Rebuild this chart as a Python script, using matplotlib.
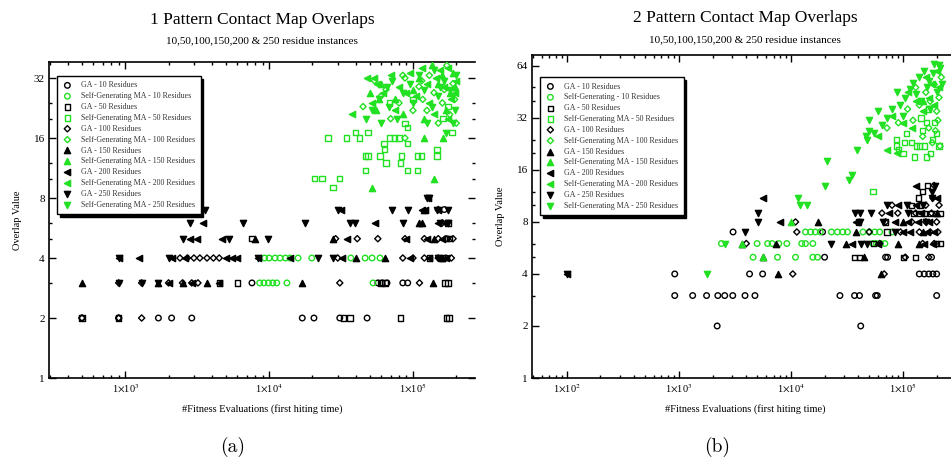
import matplotlib
matplotlib.use("Agg")
import numpy as np
import matplotlib.pyplot as plt
from matplotlib.ticker import FixedLocator, FuncFormatter, NullFormatter, LogLocator

plt.rcParams["font.family"] = ["Liberation Serif", "DejaVu Serif"]
plt.rcParams["mathtext.fontset"] = "stix"

GREEN = "#22e022"

labels_a = [
    "GA - 10 Residues", "Self-Generating MA - 10 Residues",
    "GA - 50 Residues", "Self-Generating MA - 50 Residues",
    "GA - 100 Residues", "Self-Generating MA - 100 Residues",
    "GA - 150 Residues", "Self-Generating MA - 150 Residues",
    "GA - 200 Residues", "Self-Generating MA - 200 Residues",
    "GA - 250 Residues", "Self-Generating MA - 250 Residues",
]
labels_b = list(labels_a)
labels_b[1] = "Self-Generating - 10 Residues"

# ---- panel (a): 1 pattern, (fitness evaluations, overlap value)
a_ga10 = [(500, 2), (900, 2), (1700, 2), (2100, 2), (2900, 2), (17000, 2), (20500, 2),
          (31000, 2), (48000, 2), (7600, 3), (57000, 3), (61000, 3), (66000, 3),
          (85000, 3), (92000, 3), (170000, 4), (170000, 5), (165000, 7)]
a_sg10 = [(8600, 3), (9200, 3), (9900, 3), (10600, 3), (11300, 3), (13300, 3), (52800, 3),
          (9300, 4), (10000, 4), (11000, 4), (11900, 4), (13000, 4), (14000, 4), (15900, 4),
          (19800, 4), (37000, 4), (46500, 4), (52000, 4), (59000, 4)]
a_ga50 = [(500, 2), (900, 2), (33000, 2), (36500, 2), (82000, 2), (170000, 2), (178000, 2),
          (4500, 3), (6000, 3), (60000, 3), (64000, 3), (167000, 3), (175000, 3),
          (130000, 4), (160000, 4), (7600, 5), (170000, 5), (180000, 5), (175000, 6)]
a_sg50 = [(20800, 10), (23300, 10), (31000, 10), (27800, 9), (25700, 16), (34600, 16),
          (42700, 16), (40000, 17), (48700, 17), (46500, 13), (48700, 13), (59000, 13),
          (47000, 11), (65000, 12), (63500, 14), (69000, 16), (74000, 16), (80000, 16),
          (82000, 12), (92000, 11), (107000, 11), (107000, 13), (115000, 13), (147000, 13),
          (92000, 18), (187000, 17), (69000, 24), (88000, 19), (100000, 25), (162000, 20),
          (175000, 23), (187000, 27), (63000, 15), (92000, 15), (83000, 13), (147000, 14)]
a_ga100 = [(500, 2), (900, 2), (1300, 2), (900, 3), (1300, 3), (2000, 3), (2500, 3),
           (2900, 3), (3200, 3), (31000, 3), (111000, 3), (2400, 4), (2700, 4), (3000, 4),
           (3300, 4), (3700, 4), (4100, 4), (4500, 4), (30000, 4), (85000, 4), (100000, 4),
           (120000, 4), (150000, 4), (185000, 4), (29000, 5), (41000, 5), (57000, 5),
           (88000, 5), (120000, 5), (150000, 5), (190000, 5), (160000, 6), (150000, 7)]
a_sg100 = [(54000, 31), (88000, 32), (172000, 37), (115000, 31), (80000, 24), (117000, 25),
           (88000, 16), (65000, 28), (100000, 22), (140000, 27), (160000, 24), (190000, 30),
           (45000, 23), (70000, 20), (130000, 33), (180000, 21), (150000, 19), (60000, 26),
           (110000, 29), (195000, 25), (85000, 33), (125000, 22), (165000, 28), (200000, 19)]
a_ga150 = [(500, 3), (1700, 3), (2500, 3), (3700, 3), (17000, 3), (137000, 3),
           (40000, 4), (64000, 4), (160000, 4), (8000, 5), (28000, 5), (140000, 5),
           (111000, 6), (115000, 6), (120000, 7)]
a_sg150 = [(52000, 9), (140000, 10), (119000, 16), (162000, 16), (60000, 30), (75000, 25),
           (100000, 28), (135000, 37), (150000, 30), (170000, 22), (190000, 34), (55000, 22),
           (120000, 20), (85000, 21), (180000, 27), (160000, 33), (50000, 27), (110000, 32),
           (58000, 25), (195000, 29)]
a_ga200 = [(2000, 3), (2900, 3), (4500, 3), (900, 4), (1250, 4), (2100, 4), (2600, 4),
           (5000, 4), (5500, 4), (6000, 4), (8400, 4), (14000, 4), (32000, 4), (95000, 4),
           (130000, 4), (170000, 4), (2800, 5), (3150, 5), (4700, 5), (34800, 5), (90000, 5),
           (125000, 5), (160000, 5), (3480, 6), (54500, 6), (150000, 6), (168000, 6),
           (31500, 7), (115000, 7), (122000, 7), (150000, 7), (128000, 8)]
a_sg200 = [(37500, 21), (48000, 32), (56000, 30), (70000, 33), (95000, 34), (62000, 27),
           (80000, 29), (105000, 26), (125000, 30), (145000, 32), (165000, 29), (185000, 25),
           (200000, 31), (52000, 24), (75000, 22), (130000, 24), (155000, 35), (175000, 20),
           (90000, 27), (115000, 36), (54000, 32), (175000, 36), (140000, 21), (195000, 27)]
a_ga250 = [(900, 3), (1300, 3), (1700, 3), (900, 4), (2000, 4), (8400, 4), (21800, 4),
           (28000, 4), (150000, 4), (2500, 5), (5300, 5), (9800, 5), (2830, 6), (6600, 6),
           (17800, 6), (36500, 6), (39600, 6), (85000, 6), (155000, 6), (175000, 6),
           (3590, 7), (30000, 7), (71000, 7), (92000, 7), (146000, 7), (175000, 7),
           (126000, 8), (130000, 8)]
a_sg250 = [(47000, 20), (52000, 22), (58000, 25), (66000, 29), (72000, 31), (85000, 27),
           (95000, 30), (110000, 33), (120000, 28), (135000, 23), (150000, 26), (165000, 31),
           (180000, 28), (195000, 22), (140000, 35), (60000, 19), (78000, 20), (100000, 24),
           (125000, 19), (170000, 17), (190000, 19), (200000, 33), (155000, 29), (68000, 23)]

# ---- panel (b): 2 patterns
b_ga10 = [(2200, 2), (42000, 2), (920, 3), (1330, 3), (1770, 3), (2230, 3), (2570, 3),
          (3030, 3), (3900, 3), (4780, 3), (27400, 3), (37000, 3), (41000, 3), (57000, 3),
          (59000, 3), (200000, 3), (920, 4), (4280, 4), (5600, 4), (140000, 4), (155000, 4),
          (170000, 4), (185000, 4), (200000, 4), (20000, 5), (70000, 5), (73000, 5),
          (180000, 5), (3050, 7), (19200, 7)]
b_sg10 = [(4600, 5), (7600, 5), (11000, 5), (15700, 5), (17300, 5), (2400, 6), (5000, 6),
          (6200, 6), (6800, 6), (7800, 6), (9200, 6), (12500, 6), (13500, 6), (15700, 6),
          (54000, 6), (58000, 6), (63000, 6), (69000, 6), (13500, 7), (15000, 7), (16500, 7),
          (18300, 7), (23000, 7), (26000, 7), (29000, 7), (32000, 7), (44000, 7), (50000, 7),
          (56000, 7), (62000, 7), (80000, 7)]
b_ga50 = [(37000, 5), (41000, 5), (102000, 5), (130000, 5), (55000, 6), (200000, 6),
          (215000, 6), (72000, 7), (40000, 8), (70000, 8), (125000, 9), (140000, 9),
          (155000, 9), (175000, 9), (195000, 9), (215000, 9), (120000, 10), (140000, 10),
          (137000, 11), (150000, 12), (165000, 13)]
b_sg50 = [(54000, 12), (88000, 24), (91000, 21), (108000, 26), (127000, 19), (163000, 19),
          (133000, 22), (140000, 22), (156000, 22), (150000, 27), (200000, 26), (190000, 30),
          (163000, 30), (175000, 20), (120000, 23), (185000, 24), (145000, 32), (210000, 22),
          (100000, 20), (170000, 36), (88000, 22), (103000, 23)]
b_ga100 = [(10400, 4), (68000, 4), (105000, 5), (170000, 5), (4000, 6), (62000, 6),
           (150000, 6), (190000, 6), (11300, 7), (50000, 7), (95000, 7), (140000, 7),
           (175000, 7), (205000, 7), (11000, 8), (70000, 8), (120000, 8), (160000, 8),
           (200000, 8), (65000, 9), (90000, 9), (130000, 9), (180000, 9), (80000, 10),
           (160000, 10), (210000, 10), (185000, 11), (190000, 13)]
b_sg100 = [(214000, 22), (183000, 23), (150000, 25), (123000, 31), (91000, 30), (72000, 28),
           (200000, 35), (175000, 40), (160000, 45), (140000, 38), (190000, 50), (210000, 42),
           (110000, 36), (130000, 48), (220000, 55), (170000, 28), (195000, 27), (205000, 31)]
b_ga150 = [(7600, 4), (64000, 4), (5600, 5), (45000, 5), (3700, 6), (7300, 6), (31000, 6),
           (91000, 6), (140000, 6), (38000, 7), (150000, 7), (17300, 8), (100000, 8),
           (200000, 9)]
b_sg150 = [(5600, 5), (3700, 6), (10000, 8), (150000, 40)]
b_ga200 = [(100, 4), (35000, 6), (60000, 6), (155000, 6), (185000, 6), (100000, 7),
           (115000, 7), (165000, 7), (190000, 7), (8000, 8), (38000, 8), (85000, 8),
           (110000, 8), (135000, 8), (170000, 8), (75000, 9), (145000, 9), (90000, 10),
           (130000, 10), (5600, 11), (200000, 11), (132000, 13)]
b_sg200 = [(72000, 21), (88000, 20), (60000, 25), (100000, 30), (120000, 28), (150000, 35),
           (170000, 42), (190000, 38), (210000, 48), (130000, 40), (160000, 55), (200000, 60),
           (110000, 45), (80000, 33), (180000, 50)]
b_ga250 = [(100, 4), (23000, 6), (42000, 6), (48000, 6), (3900, 7), (85000, 7), (5100, 8),
           (41000, 8), (66000, 8), (160000, 8), (5100, 9), (37000, 9), (41000, 9),
           (52000, 9), (110000, 9), (72000, 10), (108000, 10), (150000, 10), (180000, 11),
           (183000, 12), (195000, 13)]
b_sg250 = [(1770, 4), (2600, 6), (11500, 11), (14000, 10), (12000, 10), (20900, 18),
           (20000, 13), (35000, 15), (33000, 14), (39000, 21), (50000, 31), (47000, 25),
           (48000, 24), (50000, 27), (72000, 32), (88000, 45), (123000, 51), (210000, 65),
           (60000, 35), (95000, 38), (105000, 42), (115000, 47), (140000, 55), (155000, 60),
           (170000, 52), (185000, 58), (200000, 45), (215000, 62), (225000, 50),
           (130000, 44), (165000, 48), (190000, 66), (145000, 40), (175000, 36),
           (100000, 33), (80000, 36), (65000, 29), (55000, 26)]

series_a = [a_ga10, a_sg10, a_ga50, a_sg50, a_ga100, a_sg100,
            a_ga150, a_sg150, a_ga200, a_sg200, a_ga250, a_sg250]
series_b = [b_ga10, b_sg10, b_ga50, b_sg50, b_ga100, b_sg100,
            b_ga150, b_sg150, b_ga200, b_sg200, b_ga250, b_sg250]

# marker, filled, size
styles = [("o", False, 16), ("s", False, 14), ("D", False, 10),
          ("^", True, 20), ("<", True, 20), ("v", True, 20)]


def xfmt(v, pos):
    return r"1$\times$10$^{%d}$" % int(round(np.log10(v)))


def draw_panel(ax, series, labels, xlim, ylim, ymajor, yminor, legend_anchor):
    for i, pts in enumerate(series):
        marker, filled, size = styles[i // 2]
        color = "black" if i % 2 == 0 else GREEN
        xs, ys = zip(*pts)
        ax.scatter(xs, ys, marker=marker, s=size,
                   facecolors=color if filled else "none",
                   edgecolors=color, linewidths=1.0, label=labels[i], zorder=3)
    ax.set_xscale("log")
    ax.set_yscale("log", base=2)
    ax.set_xlim(*xlim)
    ax.set_ylim(*ylim)
    ax.xaxis.set_major_locator(LogLocator(base=10))
    ax.xaxis.set_major_formatter(FuncFormatter(xfmt))
    ax.xaxis.set_minor_locator(LogLocator(base=10, subs=np.arange(2, 10)))
    ax.xaxis.set_minor_formatter(NullFormatter())
    ax.yaxis.set_major_locator(FixedLocator(ymajor))
    ax.yaxis.set_major_formatter(FuncFormatter(lambda v, p: "%d" % v))
    ax.yaxis.set_minor_locator(FixedLocator(yminor))
    ax.yaxis.set_minor_formatter(NullFormatter())
    ax.tick_params(which="both", direction="in", top=True, right=True, width=1.0)
    ax.tick_params(which="major", length=5, labelsize=8, pad=3)
    ax.tick_params(axis="x", which="major", labelsize=7.5)
    ax.tick_params(which="minor", length=2.5)
    for sp in ax.spines.values():
        sp.set_linewidth(1.2)
    ax.set_xlabel("#Fitness Evaluations (first hiting time)", fontsize=7.5, labelpad=6)
    ax.set_ylabel("Overlap Value", fontsize=7.5, labelpad=8)
    leg = ax.legend(loc="upper left", bbox_to_anchor=legend_anchor, borderaxespad=0,
                    fontsize=5.7, labelspacing=0.36, handletextpad=1.1, borderpad=0.7,
                    handlelength=1.2, fancybox=False, edgecolor="black", framealpha=1,
                    shadow={"color": "black", "alpha": 1})
    leg.get_frame().set_linewidth(1.0)
    leg.set_zorder(5)
    for t in leg.get_texts():
        t.set_color("#333333")


fig = plt.figure(figsize=(9.51, 4.61), dpi=100)
fig.patch.set_facecolor("white")

ax_a = fig.add_axes([49 / 951, 83 / 461, 426 / 951, 316 / 461])
draw_panel(ax_a, series_a, labels_a, (295, 2.7e5), (1, 38.5),
           [1, 2, 4, 8, 16, 32], [3, 5, 6, 10, 12, 20, 24], (0.019, 0.956))
ax_a.spines["right"].set_visible(False)

ax_b = fig.add_axes([532 / 951, 83 / 461, 426 / 951, 323 / 461])
draw_panel(ax_b, series_b, labels_b, (49, 3.1e5), (1, 74),
           [1, 2, 4, 8, 16, 32, 64], [3, 5, 6, 10, 12, 20, 24, 40, 48], (0.019, 0.932))

fig.text(262 / 951, 1 - 20 / 461, "1 Pattern Contact Map Overlaps", ha="center", va="center", fontsize=12.5)
fig.text(262 / 951, 1 - 41 / 461, "10,50,100,150,200 & 250 residue instances", ha="center", va="center", fontsize=8)
fig.text(745 / 951, 1 - 18 / 461, "2 Pattern Contact Map Overlaps", ha="center", va="center", fontsize=12.5)
fig.text(745 / 951, 1 - 40 / 461, "10,50,100,150,200 & 250 residue instances", ha="center", va="center", fontsize=8)
fig.text(233 / 951, 1 - 447 / 461, "(a)", ha="center", va="center", fontsize=14, family="cmr10")
fig.text(717 / 951, 1 - 447 / 461, "(b)", ha="center", va="center", fontsize=14, family="cmr10")

fig.savefig("out.png", dpi=100, facecolor="white")
